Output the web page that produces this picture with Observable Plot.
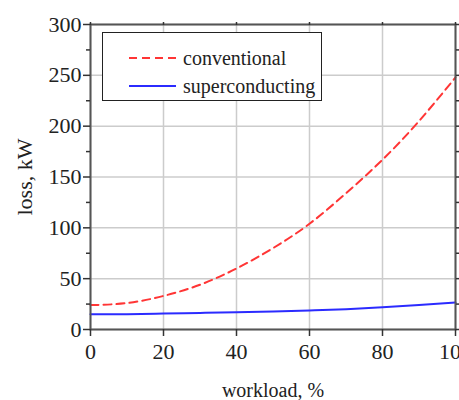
<!DOCTYPE html>
<html><head><meta charset="utf-8">
<script src="https://cdn.jsdelivr.net/npm/d3@7"></script>
<script src="https://cdn.jsdelivr.net/npm/@observablehq/plot@0.6"></script>
<style>
body{margin:0;background:#fff;}
#wrap{position:relative;width:459px;height:400px;overflow:hidden;font-family:"Liberation Serif","Times New Roman",serif;}
#legend{position:absolute;left:102px;top:32px;width:218px;height:67px;border:1.5px solid #222;background:#fff;}
.row{position:absolute;left:0;height:28px;display:flex;align-items:center;font-size:20px;color:#222;white-space:nowrap;}
.row svg{margin-left:26px;margin-right:7px;}
</style></head><body><div id="wrap"></div>
<script>
const workload = [0, 10, 20, 30, 40, 50, 60, 70, 80, 90, 100];
const conventional = [24, 26, 33, 44, 60, 80, 104, 134, 167, 205, 248];
const superconducting = [15, 15, 15.7, 16.3, 17, 17.8, 18.8, 20, 21.8, 24, 26.5];
const seriesNames = ["conventional", "superconducting"];
const seriesColors = ["#ff3535", "#2b2bff"];
const seriesDash = ["8,5", null];
const xTicks = [0, 20, 40, 60, 80, 100];
const yTicks = [0, 50, 100, 150, 200, 250, 300];
const yMinorTicks = [25, 75, 125, 175, 225, 275];
const xLabel = "workload, %";
const yLabel = "loss, kW";

const seriesValues = [conventional, superconducting];
const series = seriesNames.map((name, s) => workload.map((w, i) => ({workload: w, loss: seriesValues[s][i], series: name})));

const axisColor = "#333";
const chart = Plot.plot({
  width: 459, height: 400,
  marginLeft: 90, marginRight: 4, marginTop: 24, marginBottom: 71,
  style: {fontFamily: "'Liberation Serif', 'Times New Roman', serif", fontSize: "22px", color: "#222", background: "#fff", overflow: "visible"},
  x: {domain: [0, 100]},
  y: {domain: [0, 300]},
  marks: [
    Plot.gridX(xTicks, {stroke: "#cccccc", strokeOpacity: 1, strokeWidth: 1.5}),
    Plot.gridY(yTicks, {stroke: "#cccccc", strokeOpacity: 1, strokeWidth: 1.5}),
    ...series.map((d, s) => Plot.line(d, {x: "workload", y: "loss", stroke: seriesColors[s], strokeWidth: 2, strokeDasharray: seriesDash[s], curve: "natural"})),
    Plot.frame({stroke: "#555", strokeWidth: 2}),
    Plot.axisY(yTicks, {anchor: "left", tickSize: 7, tickPadding: 2, stroke: axisColor, strokeWidth: 1.5, fontSize: 22, label: yLabel, labelAnchor: "center", labelArrow: "none", labelOffset: 74}),
    Plot.axisY(yMinorTicks, {anchor: "left", tickSize: 4, stroke: axisColor, strokeWidth: 1.5, text: null, label: null}),
    Plot.axisY([...yTicks, ...yMinorTicks], {anchor: "right", tickSize: 4, stroke: axisColor, strokeWidth: 1.5, text: null, label: null}),
    Plot.axisX(xTicks, {anchor: "bottom", tickSize: 7, tickPadding: 7, stroke: axisColor, strokeWidth: 1.5, fontSize: 22, label: null}),
    Plot.axisX(xTicks, {anchor: "bottom", tickSize: 0, text: null, fontSize: 20, label: xLabel, labelAnchor: "center", labelArrow: "none", labelOffset: 67}),
    Plot.axisX(xTicks, {anchor: "top", tickSize: 3, stroke: axisColor, strokeWidth: 1.5, text: null, label: null})
  ]
});
const wrap = document.getElementById("wrap");
wrap.appendChild(chart);

const legend = document.createElement("div");
legend.id = "legend";
seriesNames.forEach((name, s) => {
  const row = document.createElement("div");
  row.className = "row";
  row.style.top = (11 + s * 28) + "px";
  row.innerHTML = `<svg width="47" height="6"><line x1="0" x2="47" y1="3" y2="3" stroke="${seriesColors[s]}" stroke-width="2" ${seriesDash[s] ? `stroke-dasharray="${seriesDash[s]}"` : ""}/></svg><span>${name}</span>`;
  legend.appendChild(row);
});
wrap.appendChild(legend);
</script>
</body></html>
